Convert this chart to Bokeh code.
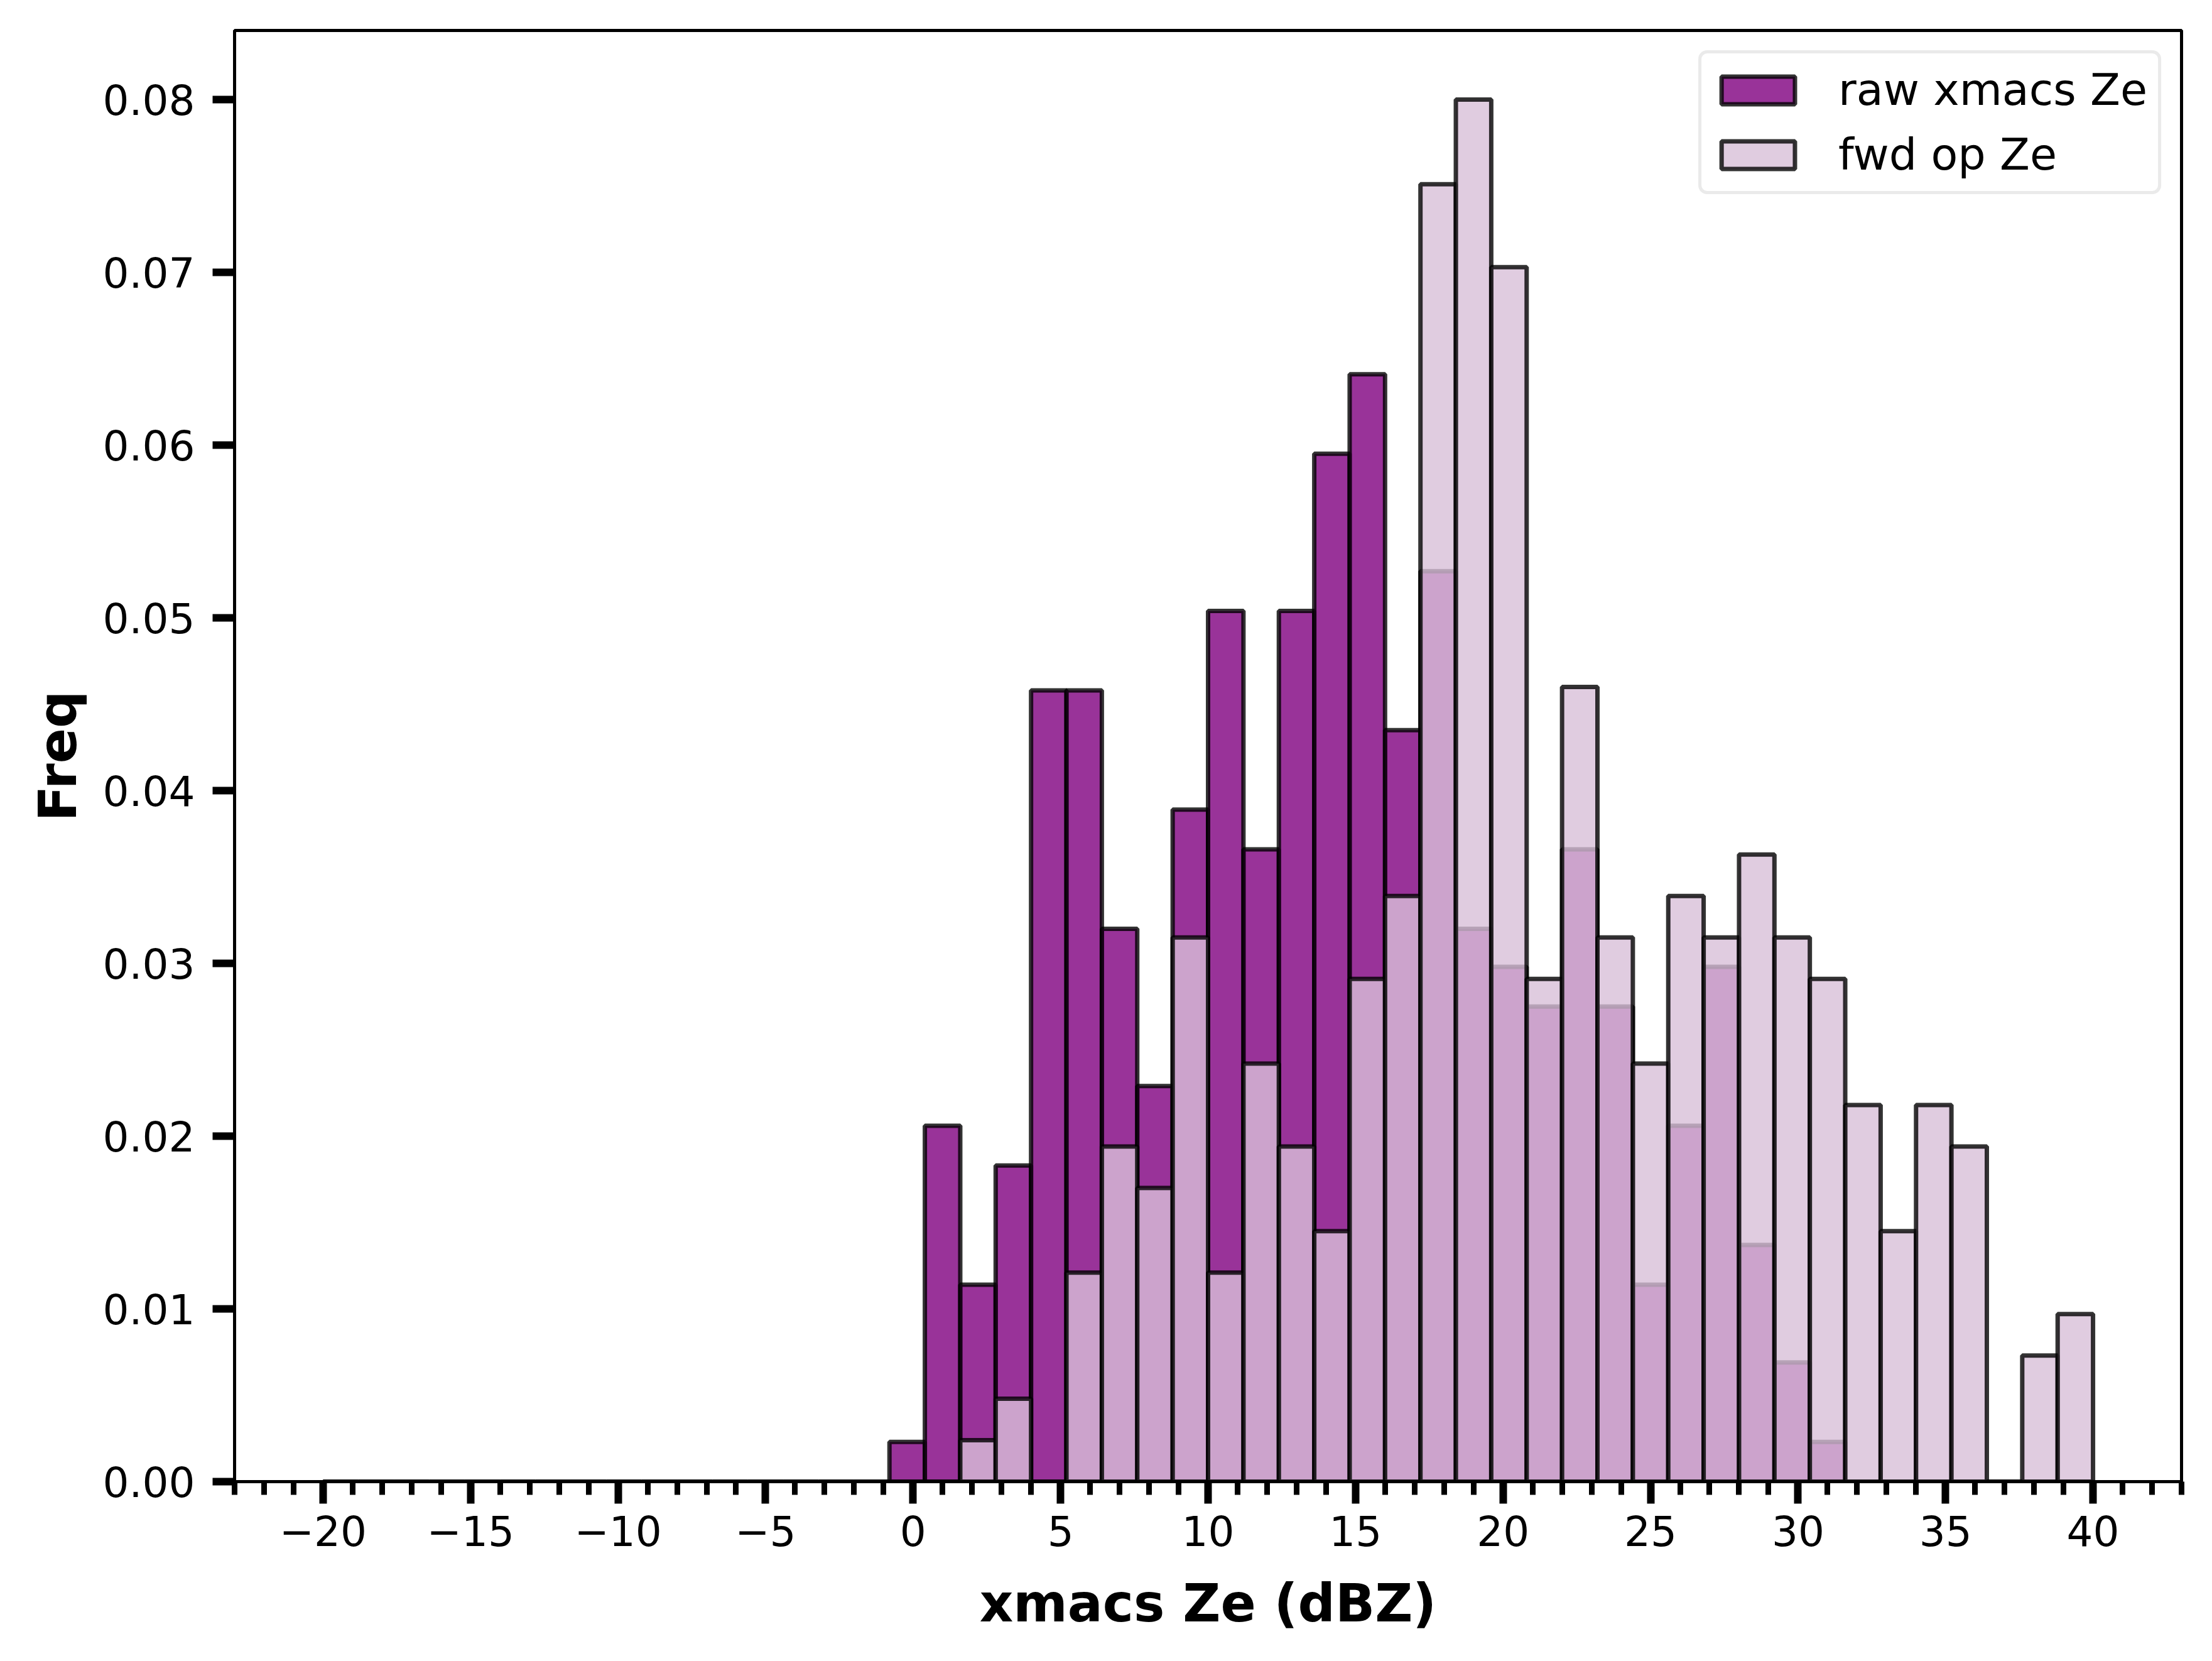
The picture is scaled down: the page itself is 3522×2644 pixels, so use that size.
from bokeh.plotting import figure
from bokeh.models import (Range1d, SingleIntervalTicker, NumeralTickFormatter,
                          Legend, LegendItem, ColumnDataSource)
from bokeh.embed import file_html
from bokeh.resources import INLINE

# ---- data ----
bin_start = -20.0
bin_width = 1.2
# 50 bins from -20 to 40; first 16 bins (-20 .. -0.8) are empty
raw_freq = [0.0] * 16 + [
    0.0023, 0.0206, 0.0114, 0.0183, 0.0458, 0.0458, 0.0320, 0.0229, 0.0389, 0.0504,
    0.0366, 0.0504, 0.0595, 0.0641, 0.0435, 0.0527, 0.0320, 0.0298, 0.0275, 0.0366,
    0.0275, 0.0114, 0.0206, 0.0298, 0.0137, 0.0069, 0.0023, 0.0, 0.0, 0.0,
    0.0, 0.0, 0.0, 0.0]
fwd_freq = [0.0] * 16 + [
    0.0, 0.0, 0.0024, 0.0048, 0.0, 0.0121, 0.0194, 0.0170, 0.0315, 0.0121,
    0.0242, 0.0194, 0.0145, 0.0291, 0.0339, 0.0751, 0.0800, 0.0703, 0.0291, 0.0460,
    0.0315, 0.0242, 0.0339, 0.0315, 0.0363, 0.0315, 0.0291, 0.0218, 0.0145, 0.0218,
    0.0194, 0.0, 0.0073, 0.0097]
series_labels = ["raw xmacs Ze", "fwd op Ze"]
x_label = "xmacs Ze (dBZ)"
y_label = "Freq"
x_tick_values = list(range(-20, 45, 5))

centers = [bin_start + bin_width * (i + 0.5) for i in range(len(raw_freq))]
src_raw = ColumnDataSource(dict(x=centers, top=raw_freq))
src_fwd = ColumnDataSource(dict(x=centers, top=fwd_freq))

W, H = 3506, 2628
p = figure(width=W, height=H, output_backend="svg", toolbar_location=None,
           x_range=Range1d(-23, 43), y_range=Range1d(0, 0.084),
           min_border_left=373, min_border_right=33, min_border_top=48,
           min_border_bottom=270)
p.background_fill_color = "white"
p.border_fill_color = "white"
p.outline_line_color = "black"
p.outline_line_width = 5
p.grid.visible = False

r_raw = p.vbar(x="x", top="top", width=bin_width, bottom=0, source=src_raw,
               fill_color="#800080", fill_alpha=0.8,
               line_color="black", line_alpha=0.8, line_width=7)
r_fwd = p.vbar(x="x", top="top", width=bin_width, bottom=0, source=src_fwd,
               fill_color="#d8bfd8", fill_alpha=0.8,
               line_color="black", line_alpha=0.8, line_width=7)

FONT = "DejaVu Sans"
for ax in (p.xaxis[0], p.yaxis[0]):
    ax.axis_line_width = 5
    ax.axis_line_color = "black"
    ax.major_tick_line_width = 12
    ax.major_tick_out = 35
    ax.major_tick_in = 0
    ax.minor_tick_line_width = 9
    ax.minor_tick_out = 21
    ax.minor_tick_in = 0
    ax.major_label_text_font = FONT
    ax.major_label_text_font_size = "66px"
    ax.major_label_text_color = "black"
    ax.axis_label_text_font = FONT
    ax.axis_label_text_font_size = "83px"
    ax.axis_label_text_font_style = "bold"
    ax.axis_label_text_color = "black"

p.xaxis[0].ticker = SingleIntervalTicker(interval=5, num_minor_ticks=5)
p.xaxis[0].major_label_overrides = {v: str(v).replace("-", "\u2212") for v in x_tick_values}
p.xaxis[0].major_label_standoff = 18
p.xaxis[0].axis_label = x_label
p.xaxis[0].axis_label_standoff = 40

p.yaxis[0].ticker = SingleIntervalTicker(interval=0.01, num_minor_ticks=0)
p.yaxis[0].formatter = NumeralTickFormatter(format="0.00")
p.yaxis[0].major_label_standoff = 28
p.yaxis[0].axis_label = y_label
p.yaxis[0].axis_label_standoff = 20

legend = Legend(items=[LegendItem(label=series_labels[0], renderers=[r_raw]),
                       LegendItem(label=series_labels[1], renderers=[r_fwd])],
                location="top_right")
legend.margin = 32
legend.padding = 17
legend.spacing = 21
legend.glyph_width = 146
legend.glyph_height = 55
legend.label_standoff = 55
legend.label_text_font = FONT
legend.label_text_font_size = "70px"
legend.label_text_color = "black"
legend.border_line_color = "#d6d6d6"
legend.border_line_width = 5
legend.border_radius = 14
legend.background_fill_color = "white"
legend.background_fill_alpha = 0.8
p.add_layout(legend)

open("out.html", "w").write(file_html(p, INLINE))
